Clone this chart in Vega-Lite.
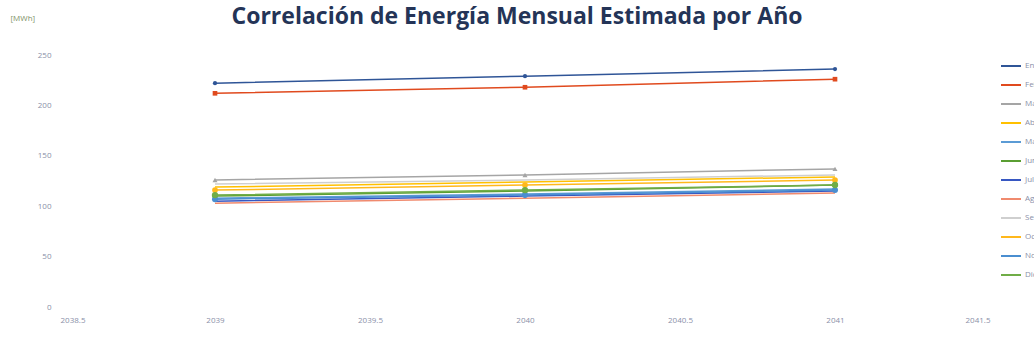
{
  "$schema": "https://vega.github.io/schema/vega-lite/v6.json",
  "width": 930,
  "height": 252,
  "autosize": {"type": "none"},
  "padding": {"left": 60, "top": 55, "right": 44, "bottom": 45},
  "background": "white",
  "config": {"view": {"stroke": null}, "font": "Open Sans"},
  "title": {
    "text": "Correlación de Energía Mensual Estimada por Año",
    "font": "Open Sans",
    "fontSize": 23,
    "fontWeight": "bold",
    "color": "#243457",
    "anchor": "middle",
    "offset": 10,
    "dy": 25,
    "dx": -8
  },
  "data": {
    "values": [
      {"mes": "Enero", "anio": 2039, "mwh": 222}, {"mes": "Enero", "anio": 2040, "mwh": 229}, {"mes": "Enero", "anio": 2041, "mwh": 236},
      {"mes": "Febrero", "anio": 2039, "mwh": 212}, {"mes": "Febrero", "anio": 2040, "mwh": 218}, {"mes": "Febrero", "anio": 2041, "mwh": 226},
      {"mes": "Marzo", "anio": 2039, "mwh": 126}, {"mes": "Marzo", "anio": 2040, "mwh": 131}, {"mes": "Marzo", "anio": 2041, "mwh": 137},
      {"mes": "Abril", "anio": 2039, "mwh": 119}, {"mes": "Abril", "anio": 2040, "mwh": 124}, {"mes": "Abril", "anio": 2041, "mwh": 129},
      {"mes": "Mayo", "anio": 2039, "mwh": 108}, {"mes": "Mayo", "anio": 2040, "mwh": 112}, {"mes": "Mayo", "anio": 2041, "mwh": 117},
      {"mes": "Junio", "anio": 2039, "mwh": 110}, {"mes": "Junio", "anio": 2040, "mwh": 115}, {"mes": "Junio", "anio": 2041, "mwh": 121},
      {"mes": "Julio", "anio": 2039, "mwh": 105}, {"mes": "Julio", "anio": 2040, "mwh": 110}, {"mes": "Julio", "anio": 2041, "mwh": 115},
      {"mes": "Agosto", "anio": 2039, "mwh": 103}, {"mes": "Agosto", "anio": 2040, "mwh": 108}, {"mes": "Agosto", "anio": 2041, "mwh": 113},
      {"mes": "Septiembre", "anio": 2039, "mwh": 122}, {"mes": "Septiembre", "anio": 2040, "mwh": 126}, {"mes": "Septiembre", "anio": 2041, "mwh": 131},
      {"mes": "Octubre", "anio": 2039, "mwh": 116}, {"mes": "Octubre", "anio": 2040, "mwh": 121}, {"mes": "Octubre", "anio": 2041, "mwh": 126},
      {"mes": "Noviembre", "anio": 2039, "mwh": 107}, {"mes": "Noviembre", "anio": 2040, "mwh": 111}, {"mes": "Noviembre", "anio": 2041, "mwh": 116},
      {"mes": "Diciembre", "anio": 2039, "mwh": 111}, {"mes": "Diciembre", "anio": 2040, "mwh": 116}, {"mes": "Diciembre", "anio": 2041, "mwh": 121}
    ]
  },
  "encoding": {
    "x": {
      "field": "anio", "type": "quantitative",
      "scale": {"domain": [2038.5, 2041.5], "nice": false, "zero": false},
      "axis": {
        "values": [2038.5, 2039, 2039.5, 2040, 2040.5, 2041, 2041.5],
        "format": ".1~f", "title": null, "grid": false, "domain": false, "ticks": false,
        "labelFontSize": 8, "labelColor": "#8a8fa8", "labelPadding": 9, "labelFont": "Open Sans"
      }
    },
    "y": {
      "field": "mwh", "type": "quantitative",
      "scale": {"domain": [0, 250], "nice": false},
      "axis": {
        "values": [0, 50, 100, 150, 200, 250],
        "title": "[MWh]", "titleAngle": 0, "titleX": -50, "titleY": -37, "titleAlign": "left",
        "titleBaseline": "middle", "titleFontSize": 8, "titleFontWeight": "normal", "titleColor": "#7f9268",
        "grid": false, "domain": false, "ticks": false,
        "labelFontSize": 8, "labelColor": "#8a8fa8", "labelPadding": 9, "labelFont": "Open Sans"
      }
    },
    "color": {
      "field": "mes", "type": "nominal",
      "scale": {
        "domain": ["Enero", "Febrero", "Marzo", "Abril", "Mayo", "Junio", "Julio", "Agosto", "Septiembre", "Octubre", "Noviembre", "Diciembre"],
        "range": ["#2F5597", "#E04A1E", "#A5A5A5", "#FFC000", "#5B9BD5", "#5A9E32", "#3757C2", "#F08A6E", "#CFCFCF", "#FFB81C", "#4A8ED0", "#70AD47"]
      },
      "legend": {
        "title": null, "orient": "none", "legendX": 940, "legendY": 0,
        "symbolType": "stroke", "symbolStrokeWidth": 2, "symbolSize": 400,
        "labelFontSize": 8, "labelColor": "#8a8fa8", "labelFont": "Open Sans",
        "rowPadding": 4, "labelOffset": 3
      }
    }
  },
  "layer": [
    {
      "mark": {"type": "line", "strokeWidth": 1.5}
    },
    {
      "transform": [{"filter": {"field": "mes", "oneOf": ["Enero", "Febrero", "Marzo", "Junio", "Octubre", "Noviembre", "Diciembre"]}}],
      "mark": {"type": "point", "filled": true, "opacity": 1},
      "encoding": {
        "shape": {
          "field": "mes", "type": "nominal", "legend": null,
          "scale": {
            "domain": ["Enero", "Febrero", "Marzo", "Junio", "Octubre", "Noviembre", "Diciembre"],
            "range": ["circle", "square", "triangle-up", "circle", "circle", "circle", "circle"]
          }
        },
        "size": {
          "field": "mes", "type": "nominal", "legend": null,
          "scale": {
            "domain": ["Enero", "Febrero", "Marzo", "Junio", "Octubre", "Noviembre", "Diciembre"],
            "range": [18, 40, 16, 20, 14, 30, 14]
          }
        }
      }
    }
  ]
}
